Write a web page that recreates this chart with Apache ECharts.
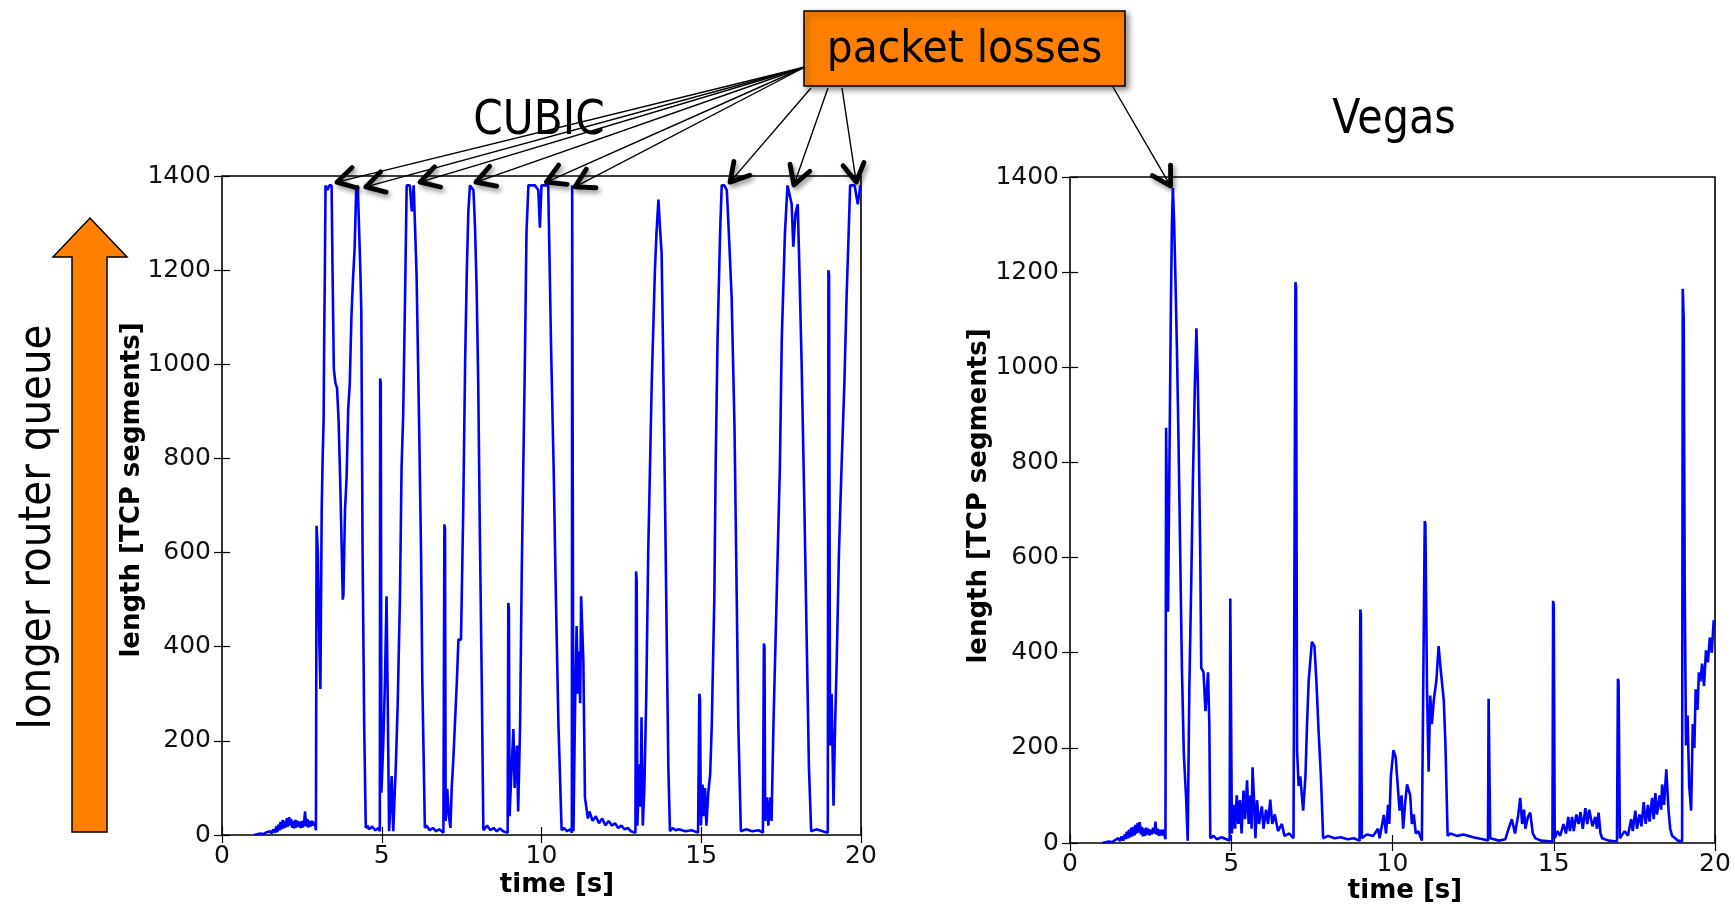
<!DOCTYPE html>
<html>
<head>
<meta charset="utf-8">
<script src="https://cdn.jsdelivr.net/npm/echarts@6/dist/echarts.min.js"></script>
<style>
html,body{margin:0;padding:0;background:#fff;}
#c{width:1735px;height:905px;}
</style>
</head>
<body>
<div id="c"></div>
<script>
// ---- data (time [s], queue length [TCP segments]) ----
const xTicks = [0, 5, 10, 15, 20];
const yTicks = [0, 200, 400, 600, 800, 1000, 1200, 1400];

const cubic = [
[1.0,0],[1.2,3],[1.3,2],[1.4,6],[1.5,8],[1.55,3],[1.6,12],[1.65,5],[1.7,18],[1.73,6],[1.76,22],[1.8,10],[1.83,28],[1.86,12],[1.9,32],[1.93,14],[1.96,30],[2.0,16],[2.03,36],[2.06,18],[2.1,38],[2.13,20],[2.16,34],[2.2,15],[2.23,30],[2.26,14],[2.3,32],[2.33,16],[2.36,30],[2.4,18],[2.43,28],[2.46,15],[2.5,30],[2.53,16],[2.57,28],[2.6,50],[2.63,18],[2.67,34],[2.7,16],[2.74,30],[2.78,18],[2.82,30],[2.86,20],[2.9,28],[2.94,10],
[2.96,657],[3.0,600],[3.05,400],[3.08,310],[3.1,307],[3.12,690],[3.15,800],[3.18,880],[3.2,1070],[3.22,1200],[3.24,1380],[3.3,1370],[3.36,1380],[3.43,1380],[3.46,1200],[3.5,990],[3.55,960],[3.6,950],[3.65,880],[3.7,750],[3.75,600],[3.78,500],[3.8,510],[3.85,690],[3.9,760],[3.95,905],[4.0,960],[4.05,1100],[4.1,1180],[4.15,1245],[4.2,1370],[4.25,1380],[4.3,1380],[4.33,1200],[4.36,1115],[4.4,600],[4.45,235],[4.5,15],[4.55,20],[4.6,12],[4.7,18],[4.8,10],[4.9,15],[4.94,8],
[4.95,970],[4.97,960],[4.99,90],[5.05,200],[5.1,325],[5.15,507],[5.18,325],[5.23,8],[5.27,60],[5.31,125],[5.36,8],[5.4,80],[5.44,145],[5.5,280],[5.57,507],[5.62,780],[5.67,890],[5.73,1145],[5.78,1380],[5.88,1380],[5.94,1325],[6.0,1380],[6.04,1380],[6.09,1190],[6.17,870],[6.23,600],[6.27,325],[6.35,15],[6.4,20],[6.5,10],[6.6,15],[6.7,8],[6.8,12],[6.93,5],
[6.96,660],[6.98,650],[7.0,30],[7.05,98],[7.1,40],[7.15,15],[7.19,100],[7.24,160],[7.3,250],[7.35,325],[7.4,415],[7.48,415],[7.55,690],[7.61,1007],[7.66,1190],[7.71,1325],[7.76,1380],[7.87,1370],[7.92,1290],[7.97,1160],[8.02,960],[8.07,645],[8.13,325],[8.18,10],[8.3,20],[8.4,10],[8.5,15],[8.6,8],[8.7,14],[8.8,8],[8.94,5],
[8.96,493],[8.98,480],[9.0,40],[9.05,120],[9.12,225],[9.16,100],[9.23,190],[9.27,50],[9.33,235],[9.38,550],[9.43,780],[9.48,1007],[9.53,1280],[9.59,1380],[9.7,1380],[9.8,1380],[9.9,1370],[9.95,1290],[10.0,1380],[10.1,1380],[10.21,1380],[10.26,1190],[10.3,1035],[10.38,780],[10.45,507],[10.53,235],[10.63,10],[10.7,15],[10.8,8],[10.9,12],[10.95,5],
[10.96,1380],[10.98,1380],[11.0,8],[11.05,270],[11.1,444],[11.14,300],[11.17,390],[11.21,280],[11.24,507],[11.31,370],[11.36,80],[11.45,35],[11.5,50],[11.6,30],[11.7,40],[11.8,25],[11.9,35],[12.0,20],[12.1,30],[12.2,20],[12.3,25],[12.4,15],[12.5,20],[12.6,12],[12.7,15],[12.8,8],[12.94,5],
[12.96,560],[12.98,540],[13.0,20],[13.06,150],[13.1,60],[13.13,250],[13.17,20],[13.22,100],[13.28,300],[13.34,600],[13.45,960],[13.55,1200],[13.6,1280],[13.66,1350],[13.7,1300],[13.76,1235],[13.81,1007],[13.87,690],[13.92,415],[13.97,145],[14.02,8],[14.1,15],[14.2,10],[14.3,12],[14.5,8],[14.7,10],[14.9,5],
[14.94,300],[14.96,290],[14.99,20],[15.04,107],[15.08,40],[15.12,100],[15.16,20],[15.22,90],[15.28,130],[15.33,235],[15.41,507],[15.45,780],[15.51,1053],[15.59,1280],[15.64,1380],[15.72,1380],[15.8,1370],[15.85,1300],[15.95,1145],[16.04,870],[16.11,507],[16.16,235],[16.24,8],[16.4,12],[16.6,8],[16.8,10],[16.93,5],
[16.96,407],[16.98,400],[17.0,30],[17.05,80],[17.1,20],[17.15,80],[17.2,30],[17.26,235],[17.36,507],[17.46,780],[17.52,1053],[17.62,1280],[17.7,1380],[17.76,1380],[17.83,1340],[17.88,1250],[17.95,1320],[18.02,1340],[18.06,1235],[18.14,1007],[18.23,690],[18.3,415],[18.37,145],[18.44,8],[18.6,12],[18.8,8],[18.96,5],
[18.98,1200],[19.0,1190],[19.03,190],[19.08,300],[19.14,62],[19.19,235],[19.24,370],[19.31,600],[19.39,780],[19.48,960],[19.55,1145],[19.6,1250],[19.66,1380],[19.8,1380],[19.9,1340],[19.98,1380]
];

const vegas = [
[1.0,0],[1.2,3],[1.3,2],[1.4,6],[1.5,10],[1.55,4],[1.6,14],[1.65,5],[1.7,18],[1.73,8],[1.76,24],[1.8,10],[1.83,28],[1.86,12],[1.9,32],[1.93,14],[1.96,34],[2.0,16],[2.03,38],[2.06,20],[2.1,42],[2.13,22],[2.16,44],[2.2,18],[2.23,34],[2.26,14],[2.3,30],[2.33,15],[2.36,32],[2.4,18],[2.43,30],[2.46,16],[2.5,28],[2.53,18],[2.58,32],[2.62,20],[2.65,45],[2.68,18],[2.72,30],[2.76,15],[2.8,28],[2.84,16],[2.88,28],[2.92,18],[2.96,8],
[2.98,873],[3.0,870],[3.04,486],[3.08,777],[3.13,1140],[3.16,1300],[3.19,1377],[3.23,1300],[3.27,1186],[3.32,1023],[3.37,823],[3.42,595],[3.47,368],[3.53,186],[3.6,95],[3.65,5],[3.7,323],[3.76,550],[3.81,759],[3.87,959],[3.92,1082],[3.96,977],[3.99,868],[4.04,595],[4.07,368],[4.14,359],[4.2,277],[4.28,359],[4.32,250],[4.35,10],[4.45,15],[4.55,8],[4.7,12],[4.85,8],[4.95,5],
[4.97,514],[4.99,510],[5.02,20],[5.07,80],[5.12,30],[5.17,100],[5.22,40],[5.27,90],[5.32,20],[5.38,110],[5.43,50],[5.49,132],[5.54,40],[5.6,100],[5.63,30],[5.66,159],[5.7,100],[5.75,10],[5.8,90],[5.86,40],[5.95,77],[6.0,30],[6.08,70],[6.14,40],[6.21,91],[6.27,40],[6.35,60],[6.45,25],[6.57,40],[6.65,15],[6.8,20],[6.93,10],
[6.99,1179],[7.01,1170],[7.04,195],[7.09,120],[7.14,140],[7.23,68],[7.3,140],[7.35,250],[7.4,340],[7.5,423],[7.58,414],[7.64,340],[7.71,232],[7.78,140],[7.85,10],[8.0,15],[8.2,10],[8.4,12],[8.6,8],[8.8,10],[8.98,5],
[9.0,491],[9.02,480],[9.05,10],[9.2,18],[9.4,15],[9.55,30],[9.6,10],[9.73,59],[9.8,20],[9.86,80],[9.9,40],[9.95,141],[10.03,195],[10.1,180],[10.14,141],[10.22,68],[10.28,100],[10.33,30],[10.4,90],[10.45,123],[10.55,100],[10.6,40],[10.66,60],[10.72,20],[10.8,25],[10.91,5],
[11.0,677],[11.02,670],[11.07,323],[11.12,150],[11.17,310],[11.22,250],[11.28,300],[11.36,341],[11.43,414],[11.5,360],[11.59,300],[11.64,210],[11.71,15],[11.8,20],[12.0,15],[12.2,18],[12.5,12],[12.8,8],[12.96,5],
[12.98,303],[13.0,300],[13.03,10],[13.3,5],[13.5,8],[13.6,30],[13.7,50],[13.8,20],[13.9,60],[13.96,95],[14.02,40],[14.08,70],[14.12,30],[14.2,55],[14.27,64],[14.35,20],[14.43,10],[14.6,5],[14.96,3],
[14.98,509],[15.0,500],[15.03,10],[15.12,25],[15.2,15],[15.3,40],[15.38,20],[15.45,55],[15.5,25],[15.57,55],[15.62,25],[15.7,60],[15.77,40],[15.83,65],[15.9,30],[15.98,73],[16.04,40],[16.1,70],[16.14,73],[16.2,35],[16.29,55],[16.34,30],[16.39,64],[16.45,20],[16.5,10],[16.7,5],[16.96,3],
[16.99,345],[17.01,340],[17.05,10],[17.2,25],[17.3,15],[17.4,50],[17.45,25],[17.53,68],[17.58,30],[17.66,60],[17.72,35],[17.79,86],[17.85,40],[17.92,80],[17.97,45],[18.05,95],[18.1,50],[18.15,105],[18.2,60],[18.28,100],[18.33,70],[18.36,123],[18.42,80],[18.49,155],[18.56,68],[18.61,30],[18.67,15],[18.85,5],[18.98,3],
[19.0,1165],[19.03,1100],[19.06,550],[19.1,205],[19.15,268],[19.2,120],[19.26,68],[19.31,250],[19.36,200],[19.4,323],[19.46,280],[19.5,359],[19.55,340],[19.6,377],[19.66,330],[19.72,405],[19.78,380],[19.84,432],[19.9,400],[19.96,468],[20.0,460]
];

// packet-loss events pointed to by the annotation arrows (data coordinates)
const cubicLossT = [3.6, 4.5, 6.2, 7.95, 10.15, 11.05, 15.9, 17.9, 19.85];
const cubicLossV = [1387, 1377, 1387, 1387, 1387, 1377, 1387, 1381, 1387];
const vegasLossT = [3.12];
const vegasLossV = [1381];

// ---- layout ----
const FONT = 'DejaVu Sans';
const ORANGE = '#ff8000';
const box = {x: 804, y: 11, w: 321, h: 75};
const cubicArrowFrom = [[805,67],[805,67],[805,67],[805,67],[805,67],[805,67],[811,88],[828,88],[842,88]];
const vegasArrowFrom = [[1113,87]];

const chart = echarts.init(document.getElementById('c'), null, {renderer: 'canvas'});

function xAx(grid, bottom) {
  return {
    type: 'value', gridIndex: grid, min: 0, max: 20, interval: 5,
    position: bottom ? 'bottom' : 'top',
    axisLine: {show: false},
    axisTick: {show: true, inside: true, length: 8, lineStyle: {color: '#000', width: 1.2}},
    axisLabel: {show: bottom, margin: 9, fontFamily: FONT, fontSize: 25, color: '#111', formatter: v => String(v)},
    splitLine: {show: false}
  };
}
function yAx(grid, left) {
  return {
    type: 'value', gridIndex: grid, min: 0, max: 1400, interval: 200,
    position: left ? 'left' : 'right',
    axisLine: {show: false},
    axisTick: {show: true, inside: true, length: 8, lineStyle: {color: '#000', width: 1.2}},
    axisLabel: {show: left, margin: 11, fontFamily: FONT, fontSize: 25, color: '#111', formatter: v => String(v)},
    splitLine: {show: false}
  };
}

const lineStyle = {color: '#0000ff', width: 2.6};

chart.setOption({
  animation: false,
  backgroundColor: '#fff',
  grid: [
    {left: 222, top: 176, width: 639, height: 659, containLabel: false, outerBoundsMode: 'none', show: true, borderColor: '#000', borderWidth: 1.6, backgroundColor: 'transparent'},
    {left: 1070, top: 177, width: 645, height: 666, containLabel: false, outerBoundsMode: 'none', show: true, borderColor: '#000', borderWidth: 1.6, backgroundColor: 'transparent'}
  ],
  xAxis: [xAx(0, true), xAx(0, false), xAx(1, true), xAx(1, false)],
  yAxis: [yAx(0, true), yAx(0, false), yAx(1, true), yAx(1, false)],
  series: [
    {type: 'line', name: 'CUBIC', xAxisIndex: 0, yAxisIndex: 0, data: cubic, showSymbol: false, symbol: 'none', lineStyle: lineStyle, z: 3},
    {type: 'line', name: 'Vegas', xAxisIndex: 2, yAxisIndex: 2, data: vegas, showSymbol: false, symbol: 'none', lineStyle: lineStyle, z: 3}
  ]
});

// ---- annotations ----
function arrowEls(from, tip) {
  const dx = tip[0] - from[0], dy = tip[1] - from[1];
  const L = Math.hypot(dx, dy);
  const bx = -dx / L, by = -dy / L;
  const a = 30 * Math.PI / 180, len = 21;
  const r1 = [tip[0] + len * (bx * Math.cos(a) - by * Math.sin(a)), tip[1] + len * (bx * Math.sin(a) + by * Math.cos(a))];
  const r2 = [tip[0] + len * (bx * Math.cos(-a) - by * Math.sin(-a)), tip[1] + len * (bx * Math.sin(-a) + by * Math.cos(-a))];
  return [
    {type: 'line', z: 50, shape: {x1: from[0], y1: from[1], x2: tip[0], y2: tip[1]}, style: {stroke: '#000', lineWidth: 1.4}},
    {type: 'polyline', z: 51, shape: {points: [r1, tip, r2]},
     style: {stroke: '#000', fill: null, lineWidth: 4.8, lineCap: 'round', lineJoin: 'round',
             shadowBlur: 5, shadowColor: 'rgba(0,0,0,0.45)', shadowOffsetX: 2, shadowOffsetY: 3}}
  ];
}

function rotText(text, x, y, size, weight) {
  return {type: 'text', z: 20, x: x, y: y, rotation: Math.PI / 2,
          style: {text: text, fontFamily: FONT, fontSize: size, fontWeight: weight, fill: '#000', align: 'center', verticalAlign: 'middle'}};
}
function hText(text, x, y, size, weight, sx) {
  return {type: 'text', z: 20, x: x, y: y, scaleX: sx,
          style: {text: text, fontFamily: FONT, fontSize: size, fontWeight: weight, fill: '#000', align: 'center', verticalAlign: 'middle'}};
}

const g = [];
// orange "longer router queue" arrow
g.push({type: 'polygon', z: 20, shape: {points: [[72,832],[107,832],[107,257],[127,257],[90,218],[53,257],[72,257]]},
        style: {fill: ORANGE, stroke: '#000', lineWidth: 1.5}});
const lrq = rotText('longer router queue', 39, 527, 44, 'normal');
lrq.scaleX = 0.92;
g.push(lrq);
// titles
g.push(hText('CUBIC', 539, 122, 48, 'normal', 0.88));
g.push(hText('Vegas', 1394, 121, 48, 'normal', 0.86));
// axis titles
g.push(rotText('length [TCP segments]', 132, 490, 26, 'bold'));
g.push(rotText('length [TCP segments]', 979, 496, 26, 'bold'));
g.push(hText('time [s]', 557, 885, 26, 'bold', 1));
g.push(hText('time [s]', 1405, 891, 26, 'bold', 1));
// packet losses box
g.push({type: 'rect', z: 40, shape: {x: box.x, y: box.y, width: box.w, height: box.h},
        style: {fill: ORANGE, stroke: '#000', lineWidth: 1.5, shadowBlur: 6, shadowColor: 'rgba(0,0,0,0.45)', shadowOffsetX: 3, shadowOffsetY: 3}});
g.push({type: 'text', z: 41, x: box.x + box.w / 2, y: box.y + 40, scaleX: 0.93,
        style: {text: 'packet losses', fontFamily: FONT, fontSize: 44, fill: '#000', align: 'center', verticalAlign: 'middle'}});

cubicLossT.forEach((t, i) => {
  const tip = chart.convertToPixel({xAxisIndex: 0, yAxisIndex: 0}, [t, cubicLossV[i]]);
  g.push(...arrowEls(cubicArrowFrom[i], tip));
});
vegasLossT.forEach((t, i) => {
  const tip = chart.convertToPixel({xAxisIndex: 2, yAxisIndex: 2}, [t, vegasLossV[i]]);
  g.push(...arrowEls(vegasArrowFrom[i], tip));
});

chart.setOption({graphic: g});
</script>
</body>
</html>
